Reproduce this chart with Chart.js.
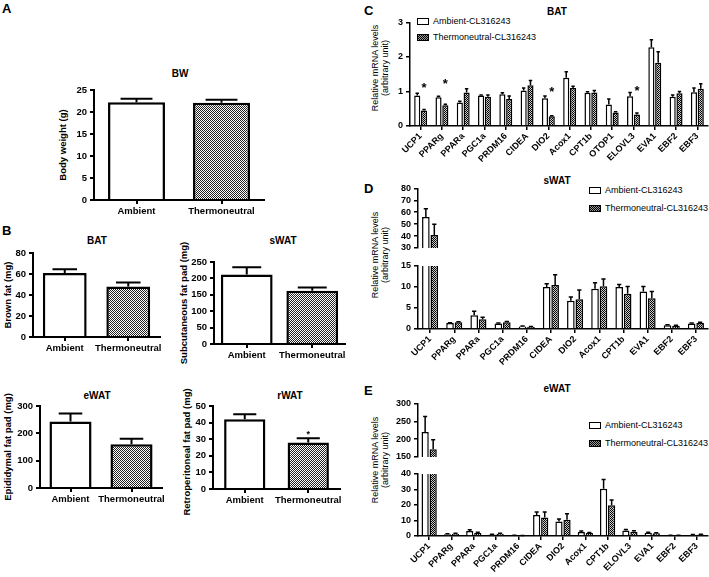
<!DOCTYPE html>
<html lang="en">

<head>
  <meta charset="UTF-8" />
  <title>Ambient vs thermoneutral</title>
  <script src="https://cdn.jsdelivr.net/npm/chart.js@4.4.1/dist/chart.umd.min.js"></script>
  <style>
    body { margin: 0; width: 709px; height: 577px; position: relative; overflow: hidden; background: #fff;
      font-family: 'Liberation Sans', Arial, sans-serif; color: #000; }
    .box { position: absolute; }
    .ttl { position: absolute; font-weight: bold; font-size: 10px; white-space: nowrap; transform: translate(-50%, -50%); }
    .letter { position: absolute; font-weight: bold; font-size: 13px; }
    .ylab { position: absolute; font-weight: bold; font-size: 9.5px; line-height: 11px; text-align: center;
      white-space: nowrap; transform: translate(-50%, -50%) rotate(-90deg); }
    .ylab.g { font-weight: normal; font-size: 9px; line-height: 10px; }
    .leg { position: absolute; font-size: 9px; line-height: 12px; white-space: nowrap; }
    .leg i { display: inline-block; width: 10px; height: 5px; border: 1.5px solid #000; margin-right: 4px; vertical-align: -1px; }
    .leg i.th { background: repeating-conic-gradient(#000 0 25%, #999 0 50%) 0 0 / 2px 2px; }
  </style>
</head>

<body>
  <div class="letter" style="left:2px;top:1px">A</div>
  <div class="letter" style="left:2px;top:223px">B</div>
  <div class="letter" style="left:364px;top:3px">C</div>
  <div class="letter" style="left:364px;top:181px">D</div>
  <div class="letter" style="left:364px;top:383px">E</div>

  <div class="ttl" style="left:180px;top:73px">BW</div>
  <div class="ttl" style="left:97px;top:240px">BAT</div>
  <div class="ttl" style="left:283px;top:240px">sWAT</div>
  <div class="ttl" style="left:97px;top:395px">eWAT</div>
  <div class="ttl" style="left:290px;top:395px">rWAT</div>
  <div class="ttl" style="left:557px;top:11px">BAT</div>
  <div class="ttl" style="left:557px;top:180px">sWAT</div>
  <div class="ttl" style="left:557px;top:388px">eWAT</div>

  <div class="ylab" style="left:62px;top:145px">Body weight (g)</div>
  <div class="ylab" style="left:7px;top:295px">Brown fat (mg)</div>
  <div class="ylab" style="left:183px;top:303px">Subcutaneous fat pad (mg)</div>
  <div class="ylab" style="left:7px;top:447px">Epididymal fat pad (mg)</div>
  <div class="ylab" style="left:186px;top:452px">Retroperitoneal fat pad (mg)</div>
  <div class="ylab g" style="left:380px;top:68px">Relative mRNA levels<br>(arbitrary unit)</div>
  <div class="ylab g" style="left:380px;top:255px">Relative mRNA levels<br>(arbitrary unit)</div>
  <div class="ylab g" style="left:380px;top:460px">Relative mRNA levels<br>(arbitrary unit)</div>

  <div class="leg" style="left:417px;top:15px"><i></i>Ambient-CL316243</div>
  <div class="leg" style="left:417px;top:31px"><i class="th"></i>Thermoneutral-CL316243</div>
  <div class="leg" style="left:589px;top:184px"><i></i>Ambient-CL316243</div>
  <div class="leg" style="left:589px;top:202px"><i class="th"></i>Thermoneutral-CL316243</div>
  <div class="leg" style="left:589px;top:419px"><i></i>Ambient-CL316243</div>
  <div class="leg" style="left:589px;top:437px"><i class="th"></i>Thermoneutral-CL316243</div>

  <script>
    // A and B: two groups, mean and SEM (upper whisker only)
    const groups = ['Ambient', 'Thermoneutral'];
    const bw = [22.2, 22.1];
    const bwErr = [0.8, 0.7];
    const batMass = [61, 48];
    const batErr = [3.5, 4];
    const swatMass = [212, 162];
    const swatErr = [22, 10];
    const ewatMass = [243, 160];
    const ewatErr = [30, 20];
    const rwatMass = [42, 28];
    const rwatErr = [3, 2.5];
    const rwatStar = [null, 33];

    // C: BAT gene expression
    const genesC = ['UCP1', 'PPARg', 'PPARa', 'PGC1a', 'PRDM16', 'CIDEA', 'DIO2', 'Acox1', 'CPT1b', 'OTOP1', 'ELOVL3', 'EVA1', 'EBF2', 'EBF3'];
    const ambC = [0.88, 0.83, 0.68, 0.88, 0.92, 1.03, 0.80, 1.40, 0.96, 0.62, 0.86, 2.28, 0.85, 0.98];
    const ambCErr = [0.07, 0.03, 0.04, 0.02, 0.04, 0.07, 0.07, 0.17, 0.03, 0.16, 0.11, 0.22, 0.05, 0.12];
    const thC = [0.45, 0.60, 0.97, 0.85, 0.78, 1.18, 0.28, 1.10, 0.97, 0.39, 0.33, 1.83, 0.95, 1.08];
    const thCErr = [0.03, 0.03, 0.11, 0.05, 0.09, 0.14, 0.02, 0.05, 0.06, 0.02, 0.05, 0.32, 0.05, 0.14];
    const starC = [1.17, 1.29, null, null, null, null, 1.05, null, null, null, 1.08, null, null, null];

    // D: sWAT gene expression (broken axis 0-15 / 30-80)
    const genesD = ['UCP1', 'PPARg', 'PPARa', 'PGC1a', 'PRDM16', 'CIDEA', 'DIO2', 'Acox1', 'CPT1b', 'EVA1', 'EBF2', 'EBF3'];
    const ambD = [56, 1.4, 3.3, 1.3, 0.6, 10, 6.7, 9.6, 10, 8.9, 0.9, 1.3];
    const ambDErr = [7, 0.1, 0.9, 0.1, 0.1, 0.8, 0.9, 1.4, 0.6, 1.2, 0.1, 0.1];
    const thD = [41, 1.6, 2.3, 1.6, 0.5, 10.5, 7.1, 10.2, 8.4, 7.3, 0.8, 1.4];
    const thDErr = [9, 0.1, 0.5, 0.2, 0.1, 2.4, 2.2, 1.7, 1.7, 1.6, 0.1, 0.2];

    // E: eWAT gene expression (broken axis 0-40 / 150-300)
    const genesE = ['UCP1', 'PPARg', 'PPARa', 'PGC1a', 'PRDM16', 'CIDEA', 'DIO2', 'Acox1', 'CPT1b', 'ELOVL3', 'EVA1', 'EBF2', 'EBF3'];
    const ambE = [220, 1.2, 3.3, 1.0, 0.4, 13.5, 9.3, 2.6, 30.5, 3.6, 2.1, 0.4, 0.8];
    const ambEErr = [43, 0.3, 0.7, 0.2, 0.1, 2, 1.7, 0.6, 6, 0.6, 0.3, 0.1, 0.2];
    const thE = [172, 1.5, 2.0, 1.4, 0.3, 12, 10.5, 2.0, 19.8, 2.7, 1.7, 0.4, 0.9];
    const thEErr = [26, 0.3, 0.5, 0.3, 0.1, 3.5, 3.8, 0.3, 3.5, 0.7, 0.4, 0.1, 0.2];

    function checker(dark, light) {
      const c = document.createElement('canvas');
      c.width = 2; c.height = 2;
      const g = c.getContext('2d');
      g.fillStyle = light; g.fillRect(0, 0, 2, 2);
      g.fillStyle = dark; g.fillRect(0, 0, 1, 1); g.fillRect(1, 1, 1, 1);
      return g.createPattern(c, 'repeat');
    }
    const greyCheck = checker('#222', '#fff');
    const darkCheck = checker('#000', '#ccc');

    // whiskers + asterisks, drawn from the y scale
    const errorBars = {
      id: 'errorBars',
      afterDatasetsDraw(chart, args, opts) {
        const ctx = chart.ctx, y = chart.scales.y;
        chart.data.datasets.forEach((ds, di) => {
          const meta = chart.getDatasetMeta(di);
          meta.data.forEach((bar, i) => {
            const v = ds.data[i];
            if (ds.errors && v >= y.min && v <= y.max) {
              const y0 = y.getPixelForValue(v), y1 = y.getPixelForValue(v + ds.errors[i]);
              const cap = bar.width * 0.28;
              ctx.save();
              ctx.strokeStyle = '#000';
              ctx.lineWidth = opts.width;
              ctx.beginPath();
              ctx.moveTo(bar.x, y0); ctx.lineTo(bar.x, y1);
              ctx.moveTo(bar.x - cap, y1); ctx.lineTo(bar.x + cap, y1);
              ctx.stroke();
              ctx.restore();
            }
            if (ds.stars && ds.stars[i] != null) {
              ctx.save();
              ctx.fillStyle = '#000';
              ctx.font = opts.starFont;
              ctx.textAlign = 'center';
              ctx.textBaseline = 'top';
              ctx.fillText('*', bar.x, y.getPixelForValue(ds.stars[i]) - 4);
              ctx.restore();
            }
          });
        });
      }
    };

    function makeChart(cfg) {
      const { box, area } = cfg;
      const div = document.createElement('div');
      div.className = 'box';
      div.style.left = box.x + 'px';
      div.style.top = box.y + 'px';
      div.style.width = box.w + 'px';
      div.style.height = box.h + 'px';
      const canvas = document.createElement('canvas');
      div.appendChild(canvas);
      document.body.appendChild(div);

      const xH = box.y + box.h - area.b;
      const lw = cfg.thin ? 1.5 : 2;
      const tickFont = { family: 'Liberation Sans', weight: 'bold', size: cfg.thin ? 9 : 9.5 };

      return new Chart(canvas.getContext('2d'), {
        type: 'bar',
        data: { labels: cfg.labels, datasets: cfg.datasets },
        options: {
          responsive: true,
          maintainAspectRatio: false,
          animation: false,
          layout: {
            padding: {
              left: 0,
              top: area.t - box.y,
              right: box.x + box.w - area.r,
              bottom: cfg.showX === false ? xH : 0
            }
          },
          plugins: {
            legend: { display: false },
            tooltip: { enabled: false },
            errorBars: { width: lw, starFont: cfg.starFont || 'bold 13px "Liberation Sans"' }
          },
          scales: {
            x: {
              display: cfg.showX !== false,
              grid: { offset: false, drawOnChartArea: false, drawTicks: true, tickLength: 4, color: '#000', lineWidth: lw },
              border: { color: '#000', width: lw },
              ticks: {
                color: '#000', font: tickFont, padding: cfg.rot ? 1 : 2, autoSkip: false,
                minRotation: cfg.rot || 0, maxRotation: cfg.rot || 0
              },
              afterFit(s) { s.height = xH; }
            },
            y: {
              min: cfg.yMin, max: cfg.yMax,
              grid: { drawOnChartArea: false, drawTicks: true, tickLength: 4, color: '#000', lineWidth: lw },
              border: { color: '#000', width: lw },
              ticks: { stepSize: cfg.yStep, autoSkip: false, color: '#000', font: tickFont, padding: 3 },
              afterFit(s) { s.width = area.l - box.x; }
            }
          }
        },
        plugins: [errorBars]
      });
    }

    function pairSet(values, errors, pct, stars) {
      return [{
        data: values, errors: errors, stars: stars,
        backgroundColor: ['#fff', greyCheck], borderColor: '#000', borderWidth: 2.5,
        categoryPercentage: 1, barPercentage: pct
      }];
    }

    function geneSets(amb, ambErr, th, thErr, pct, stars, clip) {
      const common = { borderColor: '#000', borderWidth: 1.5, categoryPercentage: pct, barPercentage: 0.9, borderSkipped: 'bottom' };
      if (clip) common.clip = 0;
      return [
        Object.assign({ label: 'Ambient-CL316243', data: amb, errors: ambErr, backgroundColor: '#fff' }, common),
        Object.assign({ label: 'Thermoneutral-CL316243', data: th, errors: thErr, stars: stars, backgroundColor: darkCheck }, common)
      ];
    }

    // A
    makeChart({ box: { x: 68, y: 80, w: 212, h: 148 }, area: { l: 94, t: 90, r: 264, b: 200 },
      labels: groups, datasets: pairSet(bw, bwErr, 0.67), yMin: 0, yMax: 25, yStep: 5 });
    // B
    makeChart({ box: { x: 12, y: 244, w: 163, h: 114 }, area: { l: 33, t: 253, r: 160, b: 337 },
      labels: groups, datasets: pairSet(batMass, batErr, 0.69), yMin: 0, yMax: 80, yStep: 20 });
    makeChart({ box: { x: 189, y: 252, w: 161, h: 114 }, area: { l: 214, t: 262, r: 345, b: 344 },
      labels: groups, datasets: pairSet(swatMass, swatErr, 0.79), yMin: 0, yMax: 250, yStep: 50 });
    makeChart({ box: { x: 12, y: 396, w: 163, h: 112 }, area: { l: 40, t: 406, r: 162, b: 488 },
      labels: groups, datasets: pairSet(ewatMass, ewatErr, 0.69), yMin: 0, yMax: 300, yStep: 100 });
    makeChart({ box: { x: 191, y: 396, w: 159, h: 112 }, area: { l: 213, t: 406, r: 340, b: 489 },
      labels: groups, datasets: pairSet(rwatMass, rwatErr, 0.65, rwatStar), yMin: 0, yMax: 50, yStep: 10,
      starFont: 'bold 9px "Liberation Sans"' });

    // C
    makeChart({ box: { x: 386, y: 14, w: 323, h: 151 }, area: { l: 410, t: 21, r: 708, b: 126 }, thin: true, rot: 45,
      labels: genesC, datasets: geneSets(ambC, ambCErr, thC, thCErr, 0.64, starC), yMin: 0, yMax: 3, yStep: 1 });

    // D (two stacked pieces for the broken axis)
    makeChart({ box: { x: 390, y: 180, w: 319, h: 88 }, area: { l: 418, t: 188, r: 708, b: 258 }, thin: true, showX: false,
      labels: genesD, datasets: geneSets(ambD, ambDErr, thD, thDErr, 0.7, null, true), yMin: 30, yMax: 80, yStep: 10 });
    makeChart({ box: { x: 390, y: 254, w: 319, h: 112 }, area: { l: 418, t: 266, r: 708, b: 329 }, thin: true, rot: 45,
      labels: genesD, datasets: geneSets(ambD, ambDErr, thD, thDErr, 0.7, null, true), yMin: 0, yMax: 15, yStep: 5 });

    // E
    makeChart({ box: { x: 390, y: 395, w: 319, h: 80 }, area: { l: 418, t: 403, r: 708, b: 466 }, thin: true, showX: false,
      labels: genesE, datasets: geneSets(ambE, ambEErr, thE, thEErr, 0.72, null, true), yMin: 150, yMax: 300, yStep: 50 });
    makeChart({ box: { x: 390, y: 462, w: 319, h: 112 }, area: { l: 418, t: 474, r: 708, b: 536 }, thin: true, rot: 45,
      labels: genesE, datasets: geneSets(ambE, ambEErr, thE, thEErr, 0.72, null, true), yMin: 0, yMax: 40, yStep: 10 });
  </script>
</body>

</html>
